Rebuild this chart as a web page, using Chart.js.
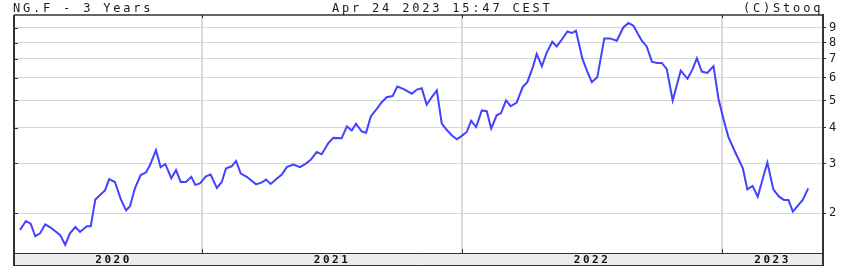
<!DOCTYPE html>
<html>
<script src="https://cdn.jsdelivr.net/npm/chart.js@4.4.0/dist/chart.umd.min.js"></script>
<body style="margin:0;background:#fff">

<canvas id="myChart" width="846" height="266"></canvas>

<script>
// weekly closes, x as fractional year
const times = [
  2020.300,2020.323,2020.341,2020.359,2020.377,2020.397,2020.415,2020.454,2020.474,2020.492,
  2020.513,2020.531,2020.557,2020.572,2020.590,2020.608,2020.627,2020.643,2020.665,2020.688,
  2020.708,2020.723,2020.742,2020.764,2020.785,2020.800,2020.823,2020.841,2020.859,2020.882,
  2020.900,2020.918,2020.938,2020.959,2020.974,2020.992,
  2021.015,2021.033,2021.057,2021.076,2021.092,2021.114,2021.131,2021.149,2021.172,2021.208,
  2021.230,2021.246,2021.264,2021.287,2021.307,2021.326,2021.351,2021.377,2021.396,2021.418,
  2021.441,2021.460,2021.486,2021.505,2021.537,2021.557,2021.576,2021.592,2021.614,2021.631,
  2021.649,2021.672,2021.691,2021.710,2021.733,2021.751,
  2021.774,2021.807,2021.826,2021.845,2021.864,2021.883,2021.903,2021.922,2021.941,2021.960,2021.980,2021.999,
  2022.018,2022.035,2022.054,2022.076,2022.095,2022.112,2022.133,2022.150,2022.169,2022.187,
  2022.210,2022.233,2022.251,2022.272,2022.287,2022.307,2022.326,2022.347,2022.364,2022.383,
  2022.405,2022.422,2022.438,2022.463,2022.480,2022.499,2022.520,2022.547,2022.569,
  2022.595,2022.620,2022.640,2022.659,2022.691,2022.710,2022.730,2022.749,2022.768,2022.787,
  2022.810,2022.841,2022.867,2022.887,2022.903,2022.922,2022.943,2022.967,2022.986,
  2023.005,2023.024,2023.050,2023.080,2023.097,2023.117,2023.137,2023.155,2023.174,2023.197,
  2023.219,2023.238,2023.255,2023.272,2023.293,2023.310,2023.331
];
const prices = [
  1.75,1.88,1.84,1.66,1.70,1.83,1.79,1.68,1.55,1.70,
  1.79,1.72,1.80,1.80,2.24,2.32,2.41,2.64,2.58,2.24,
  2.05,2.12,2.45,2.73,2.79,2.96,3.34,2.91,2.98,2.66,
  2.84,2.58,2.58,2.69,2.52,2.55,
  2.70,2.74,2.46,2.58,2.88,2.93,3.06,2.76,2.69,2.53,
  2.57,2.63,2.54,2.65,2.74,2.91,2.97,2.91,2.98,3.09,
  3.29,3.23,3.54,3.69,3.68,4.05,3.92,4.14,3.89,3.85,
  4.39,4.67,4.93,5.13,5.18,5.60,
  5.49,5.28,5.46,5.52,4.83,5.13,5.42,4.14,3.94,3.77,3.65,3.75,
  3.87,4.24,4.03,4.61,4.58,3.98,4.43,4.51,5.00,4.77,
  4.91,5.57,5.80,6.54,7.29,6.60,7.39,8.05,7.75,8.18,
  8.75,8.64,8.80,7.00,6.37,5.80,6.03,8.27,8.27,
  8.12,9.04,9.37,9.17,8.12,7.75,6.85,6.78,6.78,6.46,
  5.00,6.37,5.96,6.46,7.04,6.32,6.25,6.60,5.07,
  4.31,3.72,3.29,2.88,2.43,2.50,2.29,2.62,3.02,2.43,
  2.29,2.23,2.23,2.03,2.14,2.23,2.45
];
const yearLabels = ["2020", "2021", "2022", "2023"];
const priceTicks = [2, 3, 4, 5, 6, 7, 8, 9];
const titleLeft = "NG.F - 3 Years";
const titleMid = "Apr 24 2023 15:47 CEST";
const titleRight = "(C)Stooq";

const xMin = 2020.277, xMax = 2023.388;
const yMin = 1.45, yMax = 10;

const yearStarts = yearLabels.map(Number).filter(y => y > xMin);
// first year label sits in the middle of the data part of that year
const labelPos = yearLabels.map(y => (Math.max(+y, times[0] + 0.02) + Math.min(+y + 1, xMax)) / 2);
const isStart = v => yearStarts.some(s => Math.abs(s - v) < 1e-6);

const frame = {
  id: 'frame',
  beforeDraw(chart) {
    const {ctx, chartArea: a} = chart;
    ctx.save();
    ctx.fillStyle = '#fff';
    ctx.fillRect(0, 0, chart.width, chart.height);
    ctx.fillStyle = '#ececec';
    ctx.fillRect(a.left, a.bottom, a.right - a.left, 12);
    ctx.restore();
    ctx.letterSpacing = '2.5px';
  },
  afterDraw(chart) {
    const {ctx, chartArea: a, scales} = chart;
    ctx.save();
    ctx.strokeStyle = '#333';
    ctx.lineWidth = 1;
    ctx.beginPath();
    ctx.moveTo(a.left, a.bottom + 12.5); ctx.lineTo(a.right, a.bottom + 12.5);
    // small inner ticks
    yearStarts.forEach(v => {
      const x = Math.round(scales.x.getPixelForValue(v)) + 0.5;
      ctx.moveTo(x, a.top); ctx.lineTo(x, a.top + 3);
      ctx.moveTo(x, a.bottom - 4); ctx.lineTo(x, a.bottom);
    });
    priceTicks.forEach(v => {
      const y = Math.round(scales.y.getPixelForValue(v)) + 0.5;
      ctx.moveTo(a.left, y); ctx.lineTo(a.left + 4, y);
    });
    ctx.stroke();
    ctx.lineWidth = 1.5;
    ctx.beginPath();
    ctx.moveTo(a.left, a.top); ctx.lineTo(a.right, a.top);
    ctx.stroke();
    ctx.lineWidth = 2;
    ctx.beginPath();
    ctx.moveTo(a.left, a.top); ctx.lineTo(a.left, a.bottom + 13);
    ctx.moveTo(a.right, a.top); ctx.lineTo(a.right, a.bottom + 13);
    ctx.stroke();

    ctx.fillStyle = '#1a1a1a';
    ctx.font = '12px "DejaVu Sans Mono"';
    ctx.letterSpacing = '2.8px';
    ctx.textBaseline = 'alphabetic';
    ctx.textAlign = 'left';
    ctx.fillText(titleLeft, 13, 12);
    ctx.fillText(titleMid, 332, 12);
    ctx.fillText(titleRight, 743, 12);
    ctx.restore();
  }
};

new Chart("myChart", {
  type: "line",
  data: {
    datasets: [{
      data: times.map((t, i) => ({x: t, y: prices[i]})),
      borderColor: "#4242ff",
      borderWidth: 2,
      pointRadius: 0,
      tension: 0,
      fill: false
    }]
  },
  options: {
    responsive: false,
    animation: false,
    events: [],
    layout: {padding: {left: 14, top: 15, right: 0, bottom: 0}},
    plugins: {legend: {display: false}, tooltip: {enabled: false}},
    scales: {
      x: {
        type: "linear",
        min: xMin,
        max: xMax,
        afterFit(s) { s.height = 13; },
        afterBuildTicks(s) {
          s.ticks = yearStarts.concat(labelPos).sort((p, q) => p - q).map(v => ({value: v}));
        },
        grid: {
          drawTicks: false,
          color: c => (c.tick && isStart(c.tick.value)) ? '#dadada' : 'rgba(0,0,0,0)',
          lineWidth: c => (c.tick && isStart(c.tick.value)) ? 2 : 0
        },
        border: {display: true, color: '#333', width: 1},
        ticks: {
          autoSkip: false,
          maxRotation: 0,
          padding: 1,
          color: '#111',
          font: {family: 'DejaVu Sans Mono', size: 11, weight: 'bold'},
          callback(v) {
            const i = labelPos.findIndex(p => Math.abs(p - v) < 1e-6);
            return i >= 0 ? yearLabels[i] : '';
          }
        }
      },
      y: {
        type: "logarithmic",
        position: "right",
        min: yMin,
        max: yMax,
        afterFit(s) { s.width = 23; },
        afterBuildTicks(s) { s.ticks = priceTicks.map(v => ({value: v})); },
        grid: {color: '#d6d6d6', lineWidth: 1, tickLength: 3, tickColor: '#333'},
        border: {display: true, color: '#333', width: 2},
        ticks: {
          padding: 3,
          color: '#222',
          font: {family: 'DejaVu Sans Mono', size: 12},
          callback: v => String(v)
        }
      }
    }
  },
  plugins: [frame]
});
</script>

</body>
</html>
